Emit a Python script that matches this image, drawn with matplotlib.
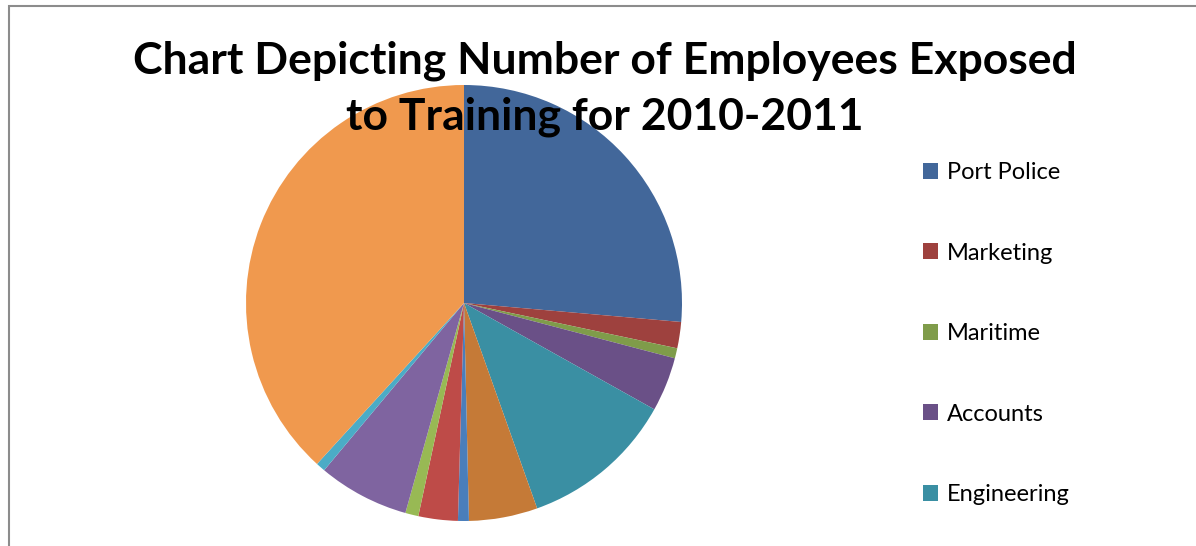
import matplotlib.pyplot as plt
from matplotlib.patches import Rectangle

# Departments (only the first five appear in the legend of the original chart)
departments = ["Port Police", "Marketing", "Maritime", "Accounts", "Engineering",
               "Dept 6", "Dept 7", "Dept 8", "Dept 9", "Dept 10", "Dept 11", "Dept 12"]
employees = [95, 7, 2.7, 14.5, 41.2, 18.3, 2.9, 10.5, 3.5, 24.3, 2.5, 137.6]
colours = ["#42679a", "#9e413e", "#7f9c4a", "#6a5087", "#3a8fa3", "#c57a37",
           "#4a7ebb", "#be4b48", "#98b954", "#7f64a0", "#4bacc6", "#f0994e"]

fig = plt.figure(figsize=(11.96, 5.46), dpi=100)

# grey chart border (left and top edges visible only)
fig.patches.append(Rectangle((8.5 / 1196, -0.2), 1.5, 1.2 - 5.5 / 546,
                             transform=fig.transFigure, fill=False,
                             edgecolor="#8c8c8c", linewidth=1.5))

ax = fig.add_axes([246 / 1196, 25 / 546, 436 / 1196, 436 / 546])
wedges, _ = ax.pie(employees, colors=colours, startangle=90, counterclock=False,
                   radius=1, wedgeprops=dict(linewidth=0))
ax.set_xlim(-1, 1)
ax.set_ylim(-1, 1)
ax.set_aspect("equal")
ax.axis("off")

fig.text(605 / 1196, 1 - 89 / 546,
         "Chart Depicting Number of Employees Exposed\nto Training for 2010-2011",
         ha="center", va="center", fontsize=32, fontweight="bold",
         family="Lato", linespacing=1.48)

fig.legend(wedges[:5], departments[:5], loc="upper left",
           bbox_to_anchor=(923 / 1196, 1 - 162 / 546), frameon=False,
           prop={"family": "Lato", "size": 17}, handlelength=0.65,
           handleheight=0.65, handletextpad=0.35, labelspacing=2.52,
           borderaxespad=0, borderpad=0)

plt.savefig("out.png", dpi=100)
